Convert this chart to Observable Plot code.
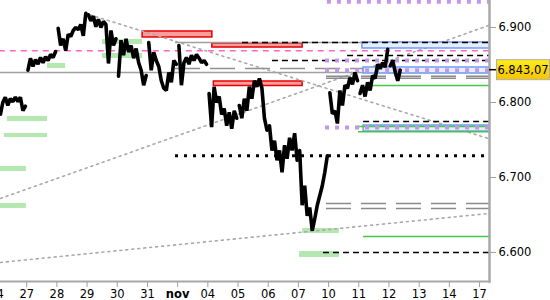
<!DOCTYPE html>
<html><head><meta charset="utf-8">
<script src="https://cdn.jsdelivr.net/npm/d3@7"></script>
<script src="https://cdn.jsdelivr.net/npm/@observablehq/plot@0.6"></script>
<style>html,body{margin:0;padding:0;background:#fff;} #chart svg{display:block;}</style>
</head><body><div id="chart"></div>
<script>
// ---- categories (trading days) ----
const dayLabels = ["24","27","28","29","30","31","nov","04","05","06","07","10","11","12","13","14","17"];
const monthLabel = "nov";
const yTicks = [6600, 6700, 6800, 6900];
const lastPrice = 6843.07;

// ---- intraday prices per day (12 readings per session) ----
const p24  = [6787, 6783, 6800, 6807, 6796, 6805, 6801, 6807, 6801, 6807, 6789, 6795];
const p27  = [6843, 6859, 6848, 6857, 6851, 6860, 6853, 6861, 6856, 6864, 6860, 6868];
const p28  = [6899, 6876, 6885, 6869, 6891, 6888, 6896, 6900, 6897, 6904, 6889, 6919];
const p29  = [6917, 6909, 6915, 6901, 6911, 6900, 6908, 6904, 6852, 6896, 6876, 6885];
const p30  = [6835, 6883, 6863, 6885, 6867, 6876, 6859, 6872, 6853, 6843, 6823, 6836];
const p31  = [6880, 6843, 6867, 6856, 6848, 6829, 6819, 6816, 6840, 6827, 6856, 6851];
const pNov = [6876, 6823, 6853, 6860, 6851, 6863, 6856, 6864, 6859, 6853, 6856, 6851];
const p04  = [6812, 6767, 6821, 6800, 6808, 6784, 6792, 6769, 6787, 6765, 6789, 6779];
const p05  = [6796, 6779, 6805, 6789, 6821, 6805, 6829, 6821, 6832, 6819, 6779, 6763];
const p06  = [6769, 6736, 6749, 6723, 6736, 6707, 6743, 6725, 6753, 6736, 6759, 6723];
const p07  = [6736, 6663, 6689, 6649, 6660, 6629, 6645, 6663, 6676, 6689, 6707, 6729];
const p10  = [6813, 6785, 6789, 6772, 6816, 6796, 6823, 6819, 6833, 6824, 6840, 6829];
const p11  = [6812, 6823, 6808, 6827, 6816, 6836, 6832, 6851, 6845, 6853, 6847, 6871];
const p12  = [6849, 6856, 6840, 6829, 6843.07];
const pricesByDay = [p24, p27, p28, p29, p30, p31, pNov, p04, p05, p06, p07, p10, p11, p12];
const readingsPerDay = 12;

// ---- zones: [fromDay, toDay, low, high] ----
const redZones = [[4.84, 7.15, 6886.7, 6894.7], [7.15, 10.14, 6873.3, 6878.7], [7.2, 10.14, 6822, 6828]];
const greenZones = [[1.69, 2.29, 6845.3, 6852], [3.51, 4.84, 6877.3, 6884], [3.51, 4.84, 6858.7, 6865.3],
  [0.36, 1.69, 6774.7, 6781.3], [0.26, 1.69, 6753.3, 6758.7], [-0.5, 0.99, 6708, 6714.7],
  [-0.5, 0.99, 6658.7, 6665.3], [10.14, 11.36, 6625.3, 6632], [10.04, 11.36, 6593.3, 6601.3]];
const blueZones = [[12.12, 17, 6872, 6880], [12.16, 17, 6838.7, 6846.7], [12.16, 17, 6761.3, 6769.3]];

// ---- horizontal levels: [fromDay, toDay, level] ----
const graySolid = [[-1, 17, 6840], [5.93, 17, 6880]];
const grayDashed = [[5.93, 12.16, 6845.3]];
const grayDouble = [[10.93, 17, 6835], [10.93, 17, 6832.3], [10.93, 17, 6665.3], [10.93, 17, 6658.7]];
const blackDashed = [[8.15, 17, 6880], [11.63, 17, 6862.7], [9.14, 17, 6856], [12.16, 17, 6774.7], [10.83, 17, 6600]];
const blackDotted = [[5.93, 17, 6729]];
const pinkDashed = [[-1, 17, 6869]];
const purpleDotted = [[10.96, 17, 6934.3], [10.9, 17, 6856], [10.9, 17, 6843], [10.9, 17, 6766.7]];
const greenLines = [[12.39, 17, 6822.7], [11.93, 17, 6768], [11.99, 17, 6761], [12.16, 17, 6621.3]];

// ---- trend lines: [[day, value], [day, value]] ----
const trendDown = [[3.1, 6916.8], [16.5, 6749.4]];
const trendUp1 = [[0.13, 6672], [16.3, 6902.7]];
const trendUp2 = [[0.13, 6586.7], [16.3, 6652]];

const bars = pricesByDay.flatMap((vals, i) => vals.map((p, j) => ({t: i + (j + 0.5) / readingsPerDay, p, day: i})));
const trends = [trendDown, trendUp1, trendUp2].flatMap((seg, k) => seg.map(([t, v]) => ({t, v, k})));

const loc = d3.formatLocale({decimal: ",", thousands: ".", grouping: [3], currency: ["", ""]});
const fmtTick = loc.format(",.0f");
const fmtPrice = loc.format(",.2f");

const zone = (data, opts) => Plot.rect(data, {x1: d => d[0], x2: d => d[1], y1: d => d[2], y2: d => d[3], clip: true, ...opts});
const level = (data, opts) => Plot.ruleY(data, {y: d => d[2], x1: d => d[0], x2: d => d[1], clip: true, ...opts});

const chart = Plot.plot({
  width: 550, height: 300,
  marginLeft: 0, marginRight: 61, marginTop: 0, marginBottom: 19,
  style: "font: 11.5px 'DejaVu Sans', sans-serif; background: #fff; color: #000;",
  x: {domain: [0.1325, 16.33], axis: null, label: null},
  y: {domain: [6561.3, 6936], axis: null, label: null},
  marks: [
    zone(greenZones, {fill: "#b4e8b0"}),
    zone(redZones, {fill: "#ff9c9c", stroke: "#e60000", strokeWidth: 1.5}),
    Plot.line(trends, {x: "t", y: "v", z: "k", stroke: "#aaaaaa", strokeWidth: 1.6, strokeDasharray: "2,4", clip: true}),
    level(graySolid, {stroke: "#a0a0a0", strokeWidth: 1.5}),
    level(grayDashed, {stroke: "#909090", strokeWidth: 1.5, strokeDasharray: "25,10"}),
    level(grayDouble, {stroke: "#8a8a8a", strokeWidth: 1.5, strokeDasharray: "25,10"}),
    level(pinkDashed, {stroke: "#ff66c8", strokeWidth: 1.5, strokeDasharray: "6,5"}),
    zone(blueZones, {fill: "#e6edff", stroke: "#6f9cf5", strokeWidth: 1.5}),
    level(greenLines, {stroke: "#44c844", strokeWidth: 1.5}),
    level(blackDashed, {stroke: "#000", strokeWidth: 1.5, strokeDasharray: "6,4"}),
    level(blackDotted, {stroke: "#000", strokeWidth: 3, strokeDasharray: "3,6"}),
    level(purpleDotted, {stroke: "#c596e8", strokeWidth: 4, strokeDasharray: "4,6"}),
    Plot.line(bars, {x: "t", y: "p", z: "day", stroke: "#000", strokeWidth: 3.6, strokeLinejoin: "bevel", clip: true}),
    Plot.frame({anchor: "bottom", stroke: "#a8a8a8", strokeWidth: 2}),
    Plot.frame({anchor: "right", stroke: "#a8a8a8", strokeWidth: 2.5}),
    Plot.axisY({anchor: "right", ticks: yTicks, tickFormat: fmtTick, tickSize: 6, tickPadding: 3, stroke: "#a0a0a0", label: null}),
    Plot.axisX({ticks: d3.range(dayLabels.length), tickFormat: i => dayLabels[i], tickSize: 6, tickPadding: 2, stroke: "#a0a0a0", label: null})
  ]
});

const svg = d3.select(chart);
svg.selectAll("text").filter(function () { return this.textContent === monthLabel; }).attr("font-weight", "bold");

// current price tag
const yPos = chart.scale("y").apply(lastPrice);
const xRight = chart.scale("x").range[1];
const defs = svg.append("defs");
const g = defs.append("linearGradient").attr("id", "tagGrad").attr("x1", 0).attr("x2", 0).attr("y1", 0).attr("y2", 1);
g.append("stop").attr("offset", "0%").attr("stop-color", "#ffec1a");
g.append("stop").attr("offset", "100%").attr("stop-color", "#f5c400");
const tag = svg.append("g");
tag.append("line").attr("x1", xRight).attr("x2", xRight + 7).attr("y1", yPos).attr("y2", yPos).attr("stroke", "#000").attr("stroke-width", 1.5);
tag.append("rect").attr("x", xRight + 7.5).attr("y", yPos - 10).attr("width", 53).attr("height", 20)
  .attr("fill", "url(#tagGrad)").attr("stroke", "#b0b0b0").attr("stroke-width", 1);
tag.append("text").attr("x", xRight + 34).attr("y", yPos + 4.5).attr("text-anchor", "middle")
  .attr("fill", "#000").style("font", "11.5px 'DejaVu Sans', sans-serif").text(fmtPrice(lastPrice));

document.getElementById("chart").append(chart);
</script>
</body></html>
